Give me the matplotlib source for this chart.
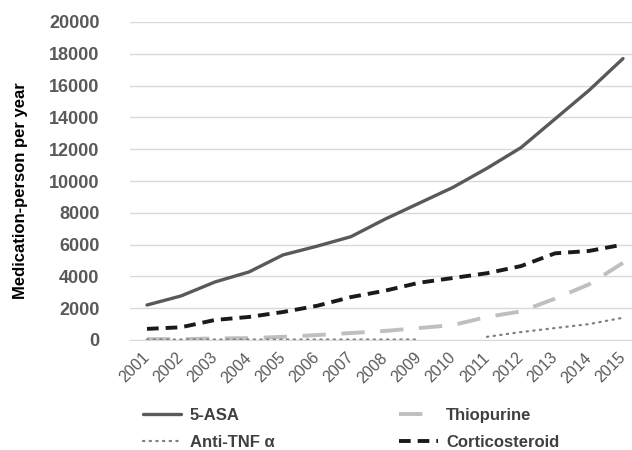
import matplotlib.pyplot as plt
import numpy as np

plt.rcParams['font.family'] = ['Liberation Sans', 'DejaVu Sans']

years = ['2001', '2002', '2003', '2004', '2005', '2006', '2007', '2008',
         '2009', '2010', '2011', '2012', '2013', '2014', '2015']
asa = [2200, 2770, 3650, 4280, 5350, 5900, 6500, 7600, 8600, 9600, 10800, 12100, 13900, 15700, 17700]
thiopurine = [60, 50, 100, 120, 200, 310, 440, 570, 750, 940, 1450, 1800, 2600, 3500, 4850]
anti_tnf = [30, 30, 30, 30, 30, 30, 30, 30, 30, np.nan, 200, 500, 750, 1000, 1400]
cortico = [700, 800, 1260, 1450, 1760, 2150, 2700, 3100, 3600, 3900, 4200, 4650, 5450, 5600, 6000]

fig = plt.figure(figsize=(6.32, 4.5), dpi=100)
ax = fig.add_axes([130/632, 1-340/450, 510/632, 318/450])

x = np.arange(len(years))
l1, = ax.plot(x, asa, color='#595959', lw=2.4, solid_capstyle='round', label='5-ASA')
l2, = ax.plot(x, thiopurine, color='#bfbfbf', lw=2.8, linestyle=(0, (6, 4)), label='Thiopurine')
l3, = ax.plot(x, anti_tnf, color='#7f7f7f', lw=1.6, linestyle=(0, (0.6, 2.4)), dash_capstyle='round', label='Anti-TNF α')
l4, = ax.plot(x, cortico, color='#1a1a1a', lw=2.8, linestyle=(0, (3, 1.8)), label='Corticosteroid')

ax.set_xlim(-0.5, len(years) - 0.5)
ax.set_ylim(0, 20000)
ax.set_yticks(range(0, 20001, 2000))
ax.set_xticks(x)
ax.set_xticklabels(years, rotation=45, ha='right', va='center', rotation_mode='anchor',
                   fontsize=11.5, color='#595959')
for lab in ax.get_yticklabels():
    lab.set_fontsize(13)
    lab.set_fontweight('bold')
    lab.set_color('#595959')
ax.tick_params(axis='both', length=0)
ax.tick_params(axis='y', pad=22)
ax.tick_params(axis='x', pad=11)

ax.grid(axis='y', color='#d9d9d9', lw=1)
ax.set_axisbelow(True)
for s in ['top', 'right', 'left']:
    ax.spines[s].set_visible(False)
ax.spines['bottom'].set_color('#d9d9d9')

ax.set_ylabel('Medication-person per year', fontsize=12, fontweight='bold', color='black')
ax.yaxis.set_label_coords(-0.2, 0.47)

leg = fig.legend([l1, l3, l2, l4], ['5-ASA', 'Anti-TNF α', 'Thiopurine', 'Corticosteroid'],
                 ncol=2, loc='upper left', bbox_to_anchor=(128/632, 1-393/450),
                 frameon=False, prop={'size': 12, 'weight': 'bold'},
                 handlelength=2.3, handletextpad=0.5, columnspacing=7.5, labelspacing=0.7)
for t in leg.get_texts():
    t.set_color('#404040')

fig.savefig('out.png', dpi=100)
